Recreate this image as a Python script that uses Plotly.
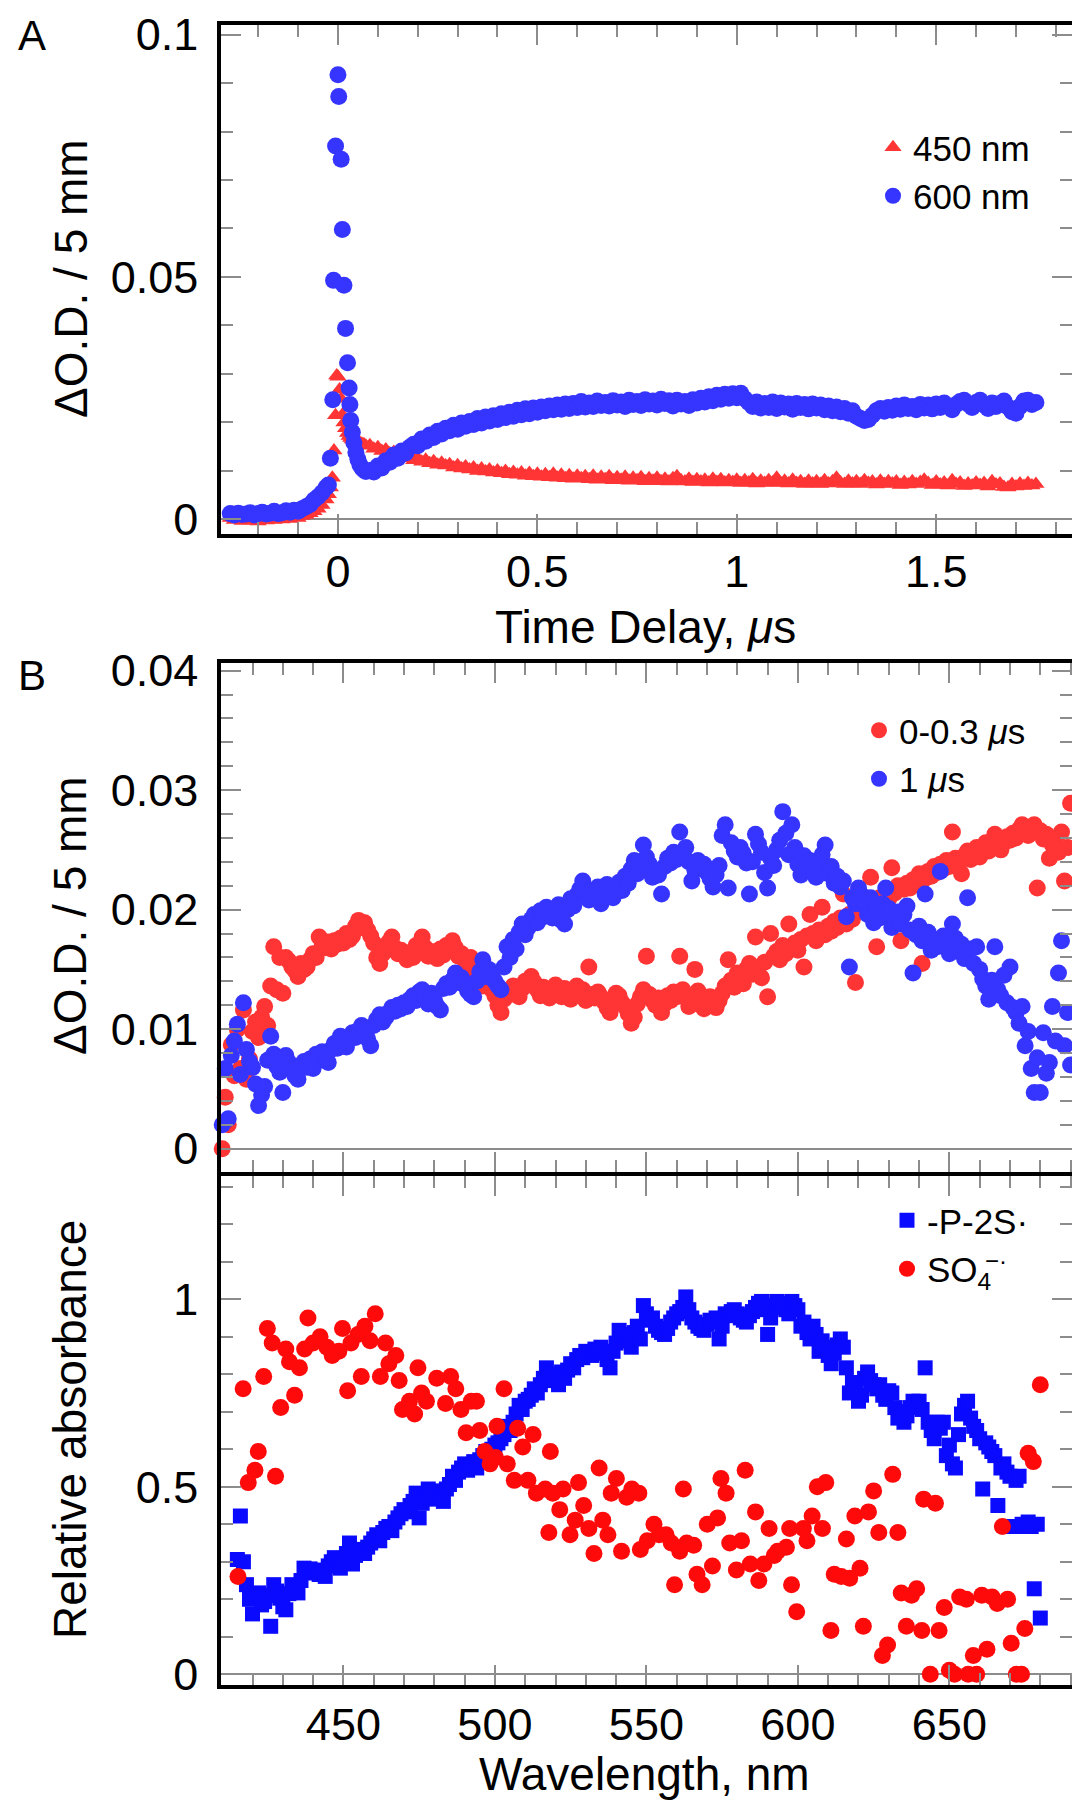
import numpy as np
import plotly.graph_objects as go

FONT = "Liberation Sans, Arial, Helvetica, sans-serif"
GRAY = "#8c8c8c"

# ================= Panel A : kinetics =================
t_pre = np.round(np.arange(-0.27, -0.025, 0.01), 2)   # -0.27 .. -0.03
t_post = np.round(np.arange(0.08, 1.755, 0.01), 2)    # 0.08 .. 1.75

od450_pre = [0.0003, -0.0001, 0.0002, -0.0003, 0.0001, -0.0002, 0.0000, -0.0004, 0.0001, -0.0002,
             0.0002, -0.0001, 0.0003, 0.0000, 0.0004, 0.0001, 0.0005, 0.0003, 0.0007, 0.0009,
             0.0013, 0.0017, 0.0022, 0.0030, 0.0041]
t450_peak = [-0.024, -0.019, -0.014, -0.010, -0.006, -0.003, 0.000, 0.004, 0.008, 0.011, 0.015, 0.019,
             0.024, 0.028, 0.032, 0.036, 0.040, 0.045, 0.050, 0.055, 0.060, 0.065, 0.070]
od450_peak = [0.0052, 0.0066, 0.0086, 0.0142, 0.0215, 0.0297, 0.0294, 0.0268, 0.0249, 0.0216, 0.0200, 0.0188,
              0.0178, 0.0172, 0.0168, 0.0165, 0.0163, 0.0161, 0.0160, 0.0158, 0.0156, 0.0155, 0.0152]
od450_post = [0.0153, 0.0146, 0.0149, 0.0141, 0.0144, 0.0136, 0.0139, 0.0131, 0.0134, 0.0126,
              0.0130, 0.0122, 0.0126, 0.0119, 0.0123, 0.0116, 0.0120, 0.0113, 0.0117, 0.0111,
              0.0114, 0.0107, 0.0112, 0.0105, 0.0109, 0.0103, 0.0107, 0.0100, 0.0105, 0.0099,
              0.0103, 0.0097, 0.0101, 0.0095, 0.0100, 0.0093, 0.0098, 0.0092, 0.0097, 0.0090,
              0.0096, 0.0089, 0.0094, 0.0088, 0.0093, 0.0087, 0.0094, 0.0086, 0.0092, 0.0085,
              0.0091, 0.0084, 0.0090, 0.0085, 0.0089, 0.0083, 0.0090, 0.0082, 0.0088, 0.0083,
              0.0089, 0.0081, 0.0087, 0.0082, 0.0088, 0.0080, 0.0086, 0.0081, 0.0087, 0.0079,
              0.0085, 0.0080, 0.0086, 0.0079, 0.0084, 0.0078, 0.0085, 0.0089, 0.0081, 0.0078,
              0.0084, 0.0077, 0.0083, 0.0078, 0.0082, 0.0076, 0.0084, 0.0077, 0.0083, 0.0076,
              0.0081, 0.0077, 0.0082, 0.0075, 0.0081, 0.0076, 0.0083, 0.0074, 0.0080, 0.0075,
              0.0081, 0.0076, 0.0086, 0.0075, 0.0080, 0.0074, 0.0082, 0.0075, 0.0079, 0.0073,
              0.0080, 0.0074, 0.0079, 0.0073, 0.0081, 0.0074, 0.0079, 0.0086, 0.0076, 0.0073,
              0.0080, 0.0074, 0.0079, 0.0073, 0.0081, 0.0075, 0.0078, 0.0072, 0.0080, 0.0073,
              0.0079, 0.0074, 0.0078, 0.0071, 0.0077, 0.0072, 0.0079, 0.0073, 0.0077, 0.0082,
              0.0075, 0.0071, 0.0078, 0.0072, 0.0076, 0.0070, 0.0081, 0.0073, 0.0076, 0.0069,
              0.0074, 0.0070, 0.0076, 0.0071, 0.0075, 0.0068, 0.0079, 0.0072, 0.0074, 0.0067,
              0.0066, 0.0073, 0.0068, 0.0074, 0.0069, 0.0075, 0.0070, 0.0073]

od600_pre = [0.0012, 0.0009, 0.0013, 0.0010, 0.0011, 0.0014, 0.0009, 0.0012, 0.0015, 0.0011,
             0.0013, 0.0017, 0.0012, 0.0014, 0.0018, 0.0015, 0.0019, 0.0017, 0.0022, 0.0026,
             0.0031, 0.0040, 0.0047, 0.0055, 0.0066]
t600_peak = [-0.024, -0.019, -0.013, -0.011, -0.006, 0.000, 0.002, 0.008, 0.011, 0.015, 0.019, 0.024,
             0.028, 0.030, 0.032, 0.036, 0.040, 0.045, 0.050, 0.055, 0.060, 0.065, 0.070]
od600_peak = [0.0071, 0.0126, 0.0247, 0.0493, 0.0770, 0.0917, 0.0872, 0.0743, 0.0598, 0.0483, 0.0394, 0.0323,
              0.0271, 0.0237, 0.0204, 0.0180, 0.0158, 0.0138, 0.0124, 0.0113, 0.0106, 0.0102, 0.0099]
od600_post = [0.0101, 0.0098, 0.0110, 0.0106, 0.0121, 0.0118, 0.0133, 0.0126, 0.0141, 0.0137,
              0.0149, 0.0155, 0.0152, 0.0166, 0.0161, 0.0174, 0.0169, 0.0182, 0.0176, 0.0188,
              0.0183, 0.0194, 0.0186, 0.0199, 0.0192, 0.0202, 0.0196, 0.0208, 0.0199, 0.0211,
              0.0203, 0.0214, 0.0206, 0.0218, 0.0210, 0.0221, 0.0213, 0.0225, 0.0216, 0.0228,
              0.0218, 0.0230, 0.0221, 0.0232, 0.0224, 0.0234, 0.0226, 0.0236, 0.0227, 0.0238,
              0.0229, 0.0239, 0.0231, 0.0243, 0.0232, 0.0240, 0.0233, 0.0244, 0.0235, 0.0241,
              0.0234, 0.0245, 0.0236, 0.0242, 0.0233, 0.0246, 0.0237, 0.0243, 0.0235, 0.0247,
              0.0238, 0.0244, 0.0236, 0.0248, 0.0239, 0.0245, 0.0234, 0.0246, 0.0238, 0.0243,
              0.0235, 0.0247, 0.0240, 0.0250, 0.0242, 0.0253, 0.0245, 0.0256, 0.0248, 0.0258,
              0.0250, 0.0259, 0.0251, 0.0260, 0.0249, 0.0241, 0.0233, 0.0242, 0.0230, 0.0239,
              0.0231, 0.0242, 0.0229, 0.0240, 0.0232, 0.0238, 0.0227, 0.0239, 0.0231, 0.0237,
              0.0228, 0.0238, 0.0230, 0.0236, 0.0226, 0.0234, 0.0224, 0.0232, 0.0222, 0.0229,
              0.0219, 0.0224, 0.0213, 0.0208, 0.0204, 0.0206, 0.0215, 0.0224, 0.0229, 0.0223,
              0.0231, 0.0225, 0.0234, 0.0227, 0.0236, 0.0229, 0.0233, 0.0226, 0.0237, 0.0230,
              0.0236, 0.0228, 0.0238, 0.0231, 0.0240, 0.0233, 0.0226, 0.0237, 0.0243, 0.0246,
              0.0238, 0.0231, 0.0241, 0.0246, 0.0236, 0.0229, 0.0240, 0.0233, 0.0239, 0.0244,
              0.0232, 0.0222, 0.0219, 0.0233, 0.0244, 0.0246, 0.0237, 0.0241]

# ================= Panel B (top) : transient spectra =================
wl_spec = list(range(410, 691))
od_early = [0.0000, 0.0043, 0.0020, 0.0087, 0.0061, 0.0100, 0.0067, 0.0116, 0.0058, 0.0075,
            0.0098, 0.0106, 0.0093, 0.0110, 0.0119, 0.0103, 0.0136, 0.0169, 0.0133, 0.0160,
            0.0130, 0.0160, 0.0157, 0.0152, 0.0149, 0.0144, 0.0155, 0.0150, 0.0152, 0.0158,
            0.0163, 0.0160, 0.0177, 0.0170, 0.0168, 0.0173, 0.0167, 0.0174, 0.0171, 0.0176,
            0.0172, 0.0180, 0.0175, 0.0178, 0.0186, 0.0191, 0.0185, 0.0189, 0.0183, 0.0178,
            0.0172, 0.0160, 0.0155, 0.0163, 0.0168, 0.0173, 0.0177, 0.0168, 0.0163, 0.0166,
            0.0162, 0.0158, 0.0164, 0.0160, 0.0170, 0.0166, 0.0177, 0.0168, 0.0161, 0.0165,
            0.0163, 0.0159, 0.0167, 0.0162, 0.0170, 0.0166, 0.0174, 0.0168, 0.0161, 0.0163,
            0.0158, 0.0152, 0.0160, 0.0155, 0.0146, 0.0150, 0.0136, 0.0142, 0.0139, 0.0133,
            0.0128, 0.0120, 0.0114, 0.0125, 0.0132, 0.0129, 0.0136, 0.0131, 0.0127, 0.0134,
            0.0140, 0.0137, 0.0144, 0.0139, 0.0133, 0.0128, 0.0135, 0.0131, 0.0126, 0.0133,
            0.0137, 0.0130, 0.0127, 0.0134, 0.0129, 0.0125, 0.0131, 0.0136, 0.0128, 0.0133,
            0.0124, 0.0152, 0.0129, 0.0126, 0.0131, 0.0127, 0.0123, 0.0118, 0.0114, 0.0125,
            0.0130, 0.0128, 0.0122, 0.0119, 0.0113, 0.0105, 0.0110, 0.0121, 0.0127, 0.0133,
            0.0161, 0.0129, 0.0124, 0.0120, 0.0126, 0.0114, 0.0121, 0.0128, 0.0124, 0.0131,
            0.0127, 0.0161, 0.0133, 0.0126, 0.0119, 0.0125, 0.0150, 0.0132, 0.0120, 0.0117,
            0.0123, 0.0127, 0.0121, 0.0118, 0.0124, 0.0130, 0.0136, 0.0158, 0.0141, 0.0135,
            0.0147, 0.0141, 0.0138, 0.0150, 0.0155, 0.0146, 0.0177, 0.0152, 0.0143, 0.0156,
            0.0127, 0.0180, 0.0161, 0.0165, 0.0158, 0.0170, 0.0163, 0.0188, 0.0167, 0.0172,
            0.0166, 0.0175, 0.0152, 0.0178, 0.0196, 0.0180, 0.0174, 0.0183, 0.0202, 0.0179,
            0.0186, 0.0182, 0.0190, 0.0185, 0.0193, 0.0213, 0.0188, 0.0196, 0.0192, 0.0139,
            0.0199, 0.0205, 0.0200, 0.0208, 0.0227, 0.0203, 0.0169, 0.0210, 0.0206, 0.0213,
            0.0209, 0.0235, 0.0214, 0.0220, 0.0174, 0.0217, 0.0222, 0.0218, 0.0225, 0.0221,
            0.0230, 0.0155, 0.0226, 0.0232, 0.0228, 0.0236, 0.0231, 0.0238, 0.0234, 0.0241,
            0.0236, 0.0265, 0.0243, 0.0238, 0.0230, 0.0245, 0.0249, 0.0242, 0.0247, 0.0252,
            0.0244, 0.0251, 0.0256, 0.0249, 0.0254, 0.0263, 0.0257, 0.0250, 0.0256, 0.0261,
            0.0258, 0.0264, 0.0260, 0.0267, 0.0271, 0.0265, 0.0262, 0.0268, 0.0271, 0.0218,
            0.0266, 0.0259, 0.0263, 0.0243, 0.0254, 0.0260, 0.0248, 0.0265, 0.0224, 0.0252,
            0.0289]
od_late = [0.0020, 0.0067, 0.0025, 0.0078, 0.0090, 0.0104, 0.0062, 0.0122, 0.0083, 0.0073,
           0.0068, 0.0054, 0.0036, 0.0045, 0.0052, 0.0074, 0.0094, 0.0079, 0.0069, 0.0064,
           0.0047, 0.0078, 0.0072, 0.0066, 0.0061, 0.0058, 0.0070, 0.0073, 0.0068, 0.0075,
           0.0067, 0.0079, 0.0074, 0.0081, 0.0078, 0.0072, 0.0083, 0.0088, 0.0084, 0.0094,
           0.0089, 0.0085, 0.0092, 0.0097, 0.0093, 0.0099, 0.0103, 0.0096, 0.0092, 0.0086,
           0.0103, 0.0108, 0.0112, 0.0106, 0.0110, 0.0114, 0.0118, 0.0115, 0.0120, 0.0117,
           0.0122, 0.0119, 0.0125, 0.0128, 0.0124, 0.0131, 0.0133, 0.0127, 0.0121, 0.0130,
           0.0125, 0.0119, 0.0116, 0.0134, 0.0138, 0.0135, 0.0141, 0.0147, 0.0139, 0.0143,
           0.0137, 0.0132, 0.0129, 0.0127, 0.0140, 0.0148, 0.0158, 0.0144, 0.0150, 0.0146,
           0.0140, 0.0136, 0.0133, 0.0152, 0.0169, 0.0160, 0.0175, 0.0167, 0.0181, 0.0188,
           0.0179, 0.0185, 0.0192, 0.0196, 0.0189, 0.0199, 0.0194, 0.0202, 0.0199, 0.0193,
           0.0197, 0.0204, 0.0191, 0.0188, 0.0200, 0.0209, 0.0203, 0.0212, 0.0217, 0.0224,
           0.0214, 0.0208, 0.0216, 0.0211, 0.0219, 0.0205, 0.0213, 0.0221, 0.0215, 0.0210,
           0.0218, 0.0223, 0.0216, 0.0228, 0.0222, 0.0234, 0.0241, 0.0230, 0.0236, 0.0254,
           0.0244, 0.0238, 0.0227, 0.0233, 0.0229, 0.0213, 0.0236, 0.0243, 0.0239, 0.0248,
           0.0242, 0.0265, 0.0246, 0.0252, 0.0240, 0.0224, 0.0233, 0.0241, 0.0235, 0.0238,
           0.0231, 0.0226, 0.0219, 0.0229, 0.0237, 0.0262, 0.0271, 0.0218, 0.0256, 0.0249,
           0.0244, 0.0252, 0.0247, 0.0239, 0.0213, 0.0240, 0.0263, 0.0255, 0.0248, 0.0231,
           0.0218, 0.0243, 0.0237, 0.0250, 0.0258, 0.0282, 0.0264, 0.0246, 0.0271, 0.0252,
           0.0238, 0.0229, 0.0245, 0.0236, 0.0241, 0.0233, 0.0227, 0.0238, 0.0246, 0.0254,
           0.0230, 0.0236, 0.0222, 0.0228, 0.0219, 0.0224, 0.0194, 0.0152, 0.0210, 0.0205,
           0.0218, 0.0212, 0.0203, 0.0196, 0.0210, 0.0189, 0.0199, 0.0193, 0.0205, 0.0218,
           0.0201, 0.0185, 0.0192, 0.0198, 0.0188, 0.0196, 0.0203, 0.0183, 0.0147, 0.0179,
           0.0186, 0.0174, 0.0213, 0.0181, 0.0166, 0.0175, 0.0169, 0.0232, 0.0178, 0.0171,
           0.0163, 0.0188, 0.0176, 0.0165, 0.0171, 0.0159, 0.0210, 0.0167, 0.0155, 0.0169,
           0.0150, 0.0142, 0.0136, 0.0125, 0.0141, 0.0169, 0.0133, 0.0128, 0.0145, 0.0122,
           0.0152, 0.0118, 0.0114, 0.0105, 0.0119, 0.0086, 0.0098, 0.0067, 0.0047, 0.0076,
           0.0047, 0.0097, 0.0063, 0.0072, 0.0119, 0.0090, 0.0147, 0.0174, 0.0086, 0.0114,
           0.0070]

# ================= Panel B (bottom) : reference spectra =================
wl_p2s = list(range(415, 681))
abs_p2s = [0.306, 0.422, 0.300, 0.239, 0.200, 0.161, 0.215, 0.217, 0.185, 0.194,
           0.210, 0.128, 0.239, 0.222, 0.203, 0.180, 0.172, 0.215, 0.239, 0.226,
           0.217, 0.250, 0.283, 0.270, 0.281, 0.275, 0.278, 0.266, 0.272, 0.261,
           0.289, 0.300, 0.311, 0.298, 0.283, 0.306, 0.322, 0.350, 0.294, 0.317,
           0.333, 0.328, 0.322, 0.339, 0.350, 0.361, 0.372, 0.356, 0.378, 0.389,
           0.394, 0.383, 0.406, 0.417, 0.428, 0.439, 0.433, 0.450, 0.461, 0.483,
           0.417, 0.456, 0.478, 0.494, 0.467, 0.489, 0.478, 0.472, 0.461, 0.494,
           0.506, 0.528, 0.517, 0.539, 0.550, 0.561, 0.544, 0.556, 0.567, 0.550,
           0.572, 0.583, 0.594, 0.589, 0.600, 0.611, 0.617, 0.628, 0.639, 0.661,
           0.650, 0.672, 0.694, 0.717, 0.706, 0.728, 0.733, 0.744, 0.761, 0.750,
           0.772, 0.789, 0.817, 0.800, 0.783, 0.794, 0.772, 0.806, 0.789, 0.811,
           0.828, 0.817, 0.839, 0.850, 0.844, 0.861, 0.856, 0.850, 0.867, 0.861,
           0.872, 0.856, 0.839, 0.817, 0.861, 0.883, 0.917, 0.906, 0.889, 0.900,
           0.872, 0.911, 0.928, 0.894, 0.983, 0.961, 0.944, 0.950, 0.928, 0.917,
           0.911, 0.906, 0.922, 0.939, 0.950, 0.961, 0.967, 0.978, 1.006, 0.972,
           0.950, 0.939, 0.928, 0.922, 0.917, 0.933, 0.944, 0.939, 0.950, 0.894,
           0.928, 0.961, 0.956, 0.967, 0.972, 0.961, 0.950, 0.944, 0.939, 0.956,
           0.967, 0.978, 0.989, 0.994, 0.972, 0.906, 0.950, 0.983, 0.994, 0.978,
           0.989, 0.972, 0.961, 0.994, 0.983, 0.972, 0.928, 0.939, 0.911, 0.894,
           0.928, 0.906, 0.861, 0.889, 0.872, 0.850, 0.828, 0.856, 0.878, 0.894,
           0.872, 0.817, 0.750, 0.778, 0.761, 0.728, 0.744, 0.789, 0.806, 0.783,
           0.772, 0.761, 0.772, 0.744, 0.733, 0.756, 0.750, 0.711, 0.683, 0.700,
           0.672, 0.689, 0.711, 0.728, 0.717, 0.728, 0.706, 0.817, 0.672, 0.650,
           0.628, 0.672, 0.656, 0.672, 0.583, 0.611, 0.561, 0.550, 0.639, 0.694,
           0.717, 0.728, 0.683, 0.661, 0.650, 0.628, 0.494, 0.617, 0.606, 0.594,
           0.583, 0.450, 0.550, 0.561, 0.539, 0.528, 0.394, 0.517, 0.528, 0.400,
           0.394, 0.406, 0.394, 0.228, 0.400, 0.150]

wl_so4 = [415.2, 416.9, 418.6, 420.8, 421.9, 423.7, 424.9, 426.5, 427.6, 429.3,
          431.0, 432.2, 433.9, 435.5, 437.2, 438.3, 440.0, 442.3, 444.6, 446.3,
          448.5, 449.7, 451.4, 452.5, 454.8, 455.9, 457.1, 458.8, 460.5, 462.2,
          463.9, 465.0, 467.3, 468.4, 469.5, 471.8, 473.5, 474.6, 475.8, 477.4,
          480.8, 483.7, 485.4, 487.1, 488.8, 490.5, 492.2, 493.9, 495.0, 496.7,
          498.4, 500.2, 500.7, 503.0, 504.1, 506.4, 507.5, 509.2, 510.9, 512.6,
          513.7, 516.6, 517.8, 518.3, 519.1, 521.4, 522.5, 524.8, 526.5, 527.6,
          529.3, 531.0, 532.7, 534.4, 535.6, 537.3, 538.4, 540.1, 541.8, 543.5,
          545.2, 547.5, 548.0, 550.3, 552.5, 554.2, 556.5, 558.2, 559.3, 561.0,
          562.2, 563.3, 565.6, 566.7, 568.4, 570.1, 571.8, 573.5, 574.6, 576.3,
          577.5, 579.7, 581.4, 582.6, 584.3, 586.0, 587.1, 588.8, 590.5, 592.2,
          593.3, 596.2, 597.3, 597.9, 599.6, 601.8, 603.0, 604.7, 606.4, 608.1,
          609.2, 610.9, 612.0, 614.3, 616.0, 617.1, 618.8, 620.5, 621.6, 623.3,
          625.0, 626.7, 627.9, 629.6, 631.3, 633.0, 634.1, 635.8, 637.5, 639.2,
          640.9, 641.5, 643.7, 645.4, 646.6, 648.3, 650.0, 651.7, 653.4, 655.6,
          656.2, 657.9, 659.0, 660.7, 662.4, 664.1, 665.8, 667.5, 669.2, 670.4,
          672.1, 673.8, 674.9, 676.0, 677.7, 680.0]
abs_so4 = [0.261, 0.761, 0.511, 0.544, 0.594, 0.794, 0.922, 0.883, 0.528, 0.711,
           0.867, 0.833, 0.744, 0.817, 0.867, 0.950, 0.883, 0.900, 0.872, 0.850,
           0.861, 0.922, 0.756, 0.883, 0.906, 0.794, 0.928, 0.889, 0.961, 0.794,
           0.883, 0.828, 0.850, 0.783, 0.706, 0.728, 0.694, 0.817, 0.750, 0.728,
           0.789, 0.722, 0.794, 0.761, 0.706, 0.644, 0.728, 0.728, 0.650, 0.594,
           0.561, 0.578, 0.661, 0.761, 0.561, 0.517, 0.656, 0.606, 0.517, 0.639,
           0.483, 0.494, 0.378, 0.594, 0.483, 0.439, 0.494, 0.372, 0.411, 0.511,
           0.450, 0.389, 0.322, 0.550, 0.411, 0.372, 0.483, 0.522, 0.328, 0.472,
           0.494, 0.483, 0.333, 0.356, 0.400, 0.372, 0.372, 0.350, 0.239, 0.328,
           0.494, 0.350, 0.344, 0.267, 0.239, 0.400, 0.289, 0.417, 0.522, 0.483,
           0.350, 0.278, 0.356, 0.544, 0.294, 0.433, 0.250, 0.294, 0.389, 0.317,
           0.328, 0.339, 0.389, 0.239, 0.167, 0.389, 0.356, 0.422, 0.500, 0.389,
           0.511, 0.117, 0.267, 0.261, 0.361, 0.256, 0.422, 0.283, 0.128, 0.433,
           0.489, 0.378, 0.050, 0.078, 0.533, 0.378, 0.217, 0.128, 0.211, 0.228,
           0.117, 0.467, 0.000, 0.456, 0.117, 0.178, 0.011, 0.000, 0.206, 0.200,
           0.000, 0.050, 0.000, 0.211, 0.067, 0.206, 0.189, 0.394, 0.200, 0.083,
           0.000, 0.000, 0.122, 0.589, 0.567, 0.772]

# ---------------- assemble ----------------
t_450 = np.concatenate([t_pre, t450_peak, t_post])
y_450 = np.concatenate([od450_pre, od450_peak, od450_post])
t_600 = np.concatenate([t_pre, t600_peak, t_post])
y_600 = np.concatenate([od600_pre, od600_peak, od600_post])

RED_A = "#ff3535"
BLUE_A = "#3535ff"
RED_C = "#ff0a0a"
BLUE_C = "#0a0aff"

fig = go.Figure()
fig.add_trace(go.Scatter(x=t_450, y=y_450, mode="markers", name="450 nm",
                         marker=dict(symbol="triangle-up", size=15, color=RED_A),
                         xaxis="x", yaxis="y", legend="legend", cliponaxis=False))
fig.add_trace(go.Scatter(x=t_600, y=y_600, mode="markers", name="600 nm",
                         marker=dict(symbol="circle", size=17, color=BLUE_A),
                         xaxis="x", yaxis="y", legend="legend", cliponaxis=False))
fig.add_trace(go.Scatter(x=wl_spec, y=od_early, mode="markers", name="0-0.3 <i>μ</i>s",
                         marker=dict(symbol="circle", size=17, color=RED_A),
                         xaxis="x2", yaxis="y2", legend="legend2", cliponaxis=False))
fig.add_trace(go.Scatter(x=wl_spec, y=od_late, mode="markers", name="1 <i>μ</i>s",
                         marker=dict(symbol="circle", size=17, color=BLUE_A),
                         xaxis="x2", yaxis="y2", legend="legend2", cliponaxis=False))
fig.add_trace(go.Scatter(x=wl_p2s, y=abs_p2s, mode="markers", name="-P-2S·",
                         marker=dict(symbol="square", size=15, color=BLUE_C),
                         xaxis="x3", yaxis="y3", legend="legend3", cliponaxis=False))
fig.add_trace(go.Scatter(x=wl_so4, y=abs_so4, mode="markers", name="SO<sub>4</sub>",
                         marker=dict(symbol="circle", size=17, color=RED_C),
                         xaxis="x3", yaxis="y3", legend="legend3", cliponaxis=False))

W, H = 1080, 1800
LW = 4
HL = LW / 2
XL, XR = (211.3 + HL) / W, (1065.8 - HL) / W
TICKFONT = dict(size=45, color="black", family=FONT)


def py(px):
    return 1 - px / H


def ax(**kw):
    d = dict(showline=True, linecolor="black", linewidth=LW, mirror="allticks",
             ticks="inside", ticklen=20, tickwidth=2, tickcolor=GRAY,
             showgrid=False, zeroline=False, automargin=False, ticklabeloverflow="allow",
             tickfont=TICKFONT,
             minor=dict(ticks="inside", ticklen=12, tickwidth=2, tickcolor=GRAY, showgrid=False))
    d.update(kw)
    return d


legend_common = dict(xanchor="left", yanchor="top", bgcolor="rgba(0,0,0,0)",
                     font=dict(size=35, color="black", family=FONT), tracegroupgap=0)

fig.update_layout(
    width=W, height=H, margin=dict(l=0, r=0, t=0, b=0, autoexpand=False),
    paper_bgcolor="white", plot_bgcolor="white",
    font=dict(family=FONT, color="black"),
    xaxis=ax(domain=[XL, XR], anchor="y", range=[-0.2925, 1.840], dtick=0.5, tick0=0,
             minor_dtick=0.1, ticklabelstandoff=-5),
    yaxis=ax(domain=[py(527.5 - HL), py(15.3 + HL)], anchor="x", range=[-0.0029, 0.1019], dtick=0.05,
             minor_dtick=0.01, zeroline=True, zerolinecolor=GRAY, zerolinewidth=2,
             ticklabelstandoff=10),
    xaxis2=ax(domain=[XL, XR], anchor="y2", range=[409.7, 690.4], dtick=50, tick0=0,
              minor_dtick=10, showticklabels=False),
    yaxis2=ax(domain=[py(1166.3 - HL), py(652.6 + HL)], anchor="x2", range=[-0.00198, 0.04067], dtick=0.01,
              minor_dtick=0.002, zeroline=True, zerolinecolor=GRAY, zerolinewidth=2,
              ticklabelstandoff=10),
    xaxis3=ax(domain=[XL, XR], anchor="y3", range=[409.7, 690.4], dtick=50, tick0=0,
              minor_dtick=10, ticklabelstandoff=-3),
    yaxis3=ax(domain=[py(1678.7 - HL), py(1166.3 + HL)], anchor="x3", range=[-0.0277, 1.3276], dtick=0.5,
              minor_dtick=0.1, zeroline=True, zerolinecolor=GRAY, zerolinewidth=2,
              ticklabelstandoff=10),
    legend=dict(x=865 / W, y=py(110), **legend_common),
    legend2=dict(x=851 / W, y=py(693), **legend_common),
    legend3=dict(x=879 / W, y=py(1183), **legend_common),
    showlegend=True,
)

ann = [
    dict(text="A", x=23.5 / W, y=py(27), font=dict(size=42)),
    dict(text="B", x=23.5 / W, y=py(667), font=dict(size=42)),
    dict(text="ΔO.D. / 5 mm", x=63 / W, y=py(271), textangle=-90, font=dict(size=46)),
    dict(text="ΔO.D. / 5 mm", x=62 / W, y=py(908), textangle=-90, font=dict(size=46)),
    dict(text="Relative absorbance", x=62 / W, y=py(1422), textangle=-90, font=dict(size=46)),
    dict(text="Time Delay, <i>μ</i>s", x=637 / W, y=py(619), font=dict(size=46)),
    dict(text="Wavelength, nm", x=636 / W, y=py(1766), font=dict(size=46)),
    # radical-anion superscript stacked over the subscript 4 of the SO4 legend entry
    dict(text="−·", x=988 / W, y=py(1252), font=dict(size=24)),
]
for a in ann:
    a.update(xref="paper", yref="paper", showarrow=False, xanchor="center", yanchor="middle")
    a["font"].update(family=FONT, color="black")
fig.update_layout(annotations=ann)

fig.write_html("out.html")
